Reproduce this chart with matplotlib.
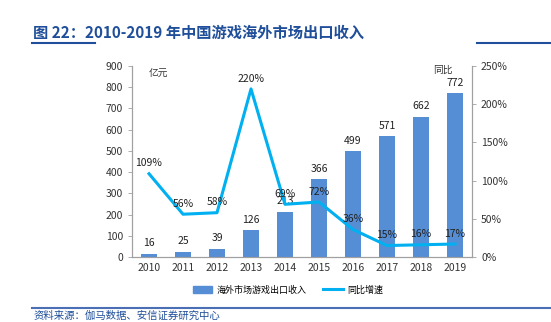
import numpy as np
import matplotlib
matplotlib.use("Agg")
from matplotlib import pyplot as plt
from matplotlib.lines import Line2D

plt.rcParams['font.family'] = ['Liberation Sans Narrow', 'Noto Sans CJK SC', 'DejaVu Sans']

years = ['2010', '2011', '2012', '2013', '2014', '2015', '2016', '2017', '2018', '2019']
revenue = [16, 25, 39, 126, 213, 366, 499, 571, 662, 772]
growth = [109, 56, 58, 220, 69, 72, 36, 15, 16, 17]

bar_color = '#558ED5'
line_color = '#00B0F0'
navy = '#1F4E9A'
cjk = ['Noto Sans CJK SC', 'DejaVu Sans']

fig = plt.figure(figsize=(5.51, 3.22), dpi=100)
ax = fig.add_axes([132/551, 1-257/322, 340/551, 191/322])
ax2 = ax.twinx()

x = np.arange(len(years))
ax.bar(x, revenue, width=0.45, color=bar_color, zorder=2)
ax.set_xlim(-0.5, 9.5)
ax.set_ylim(0, 900)
ax.set_yticks(range(0, 901, 100))
ax.set_xticks(x)
ax.set_xticklabels(years)
for i, v in enumerate(revenue):
    ax.text(i, v + 25, str(v), ha='center', va='bottom', fontsize=7.5, color='#222222')

ax2.plot(x, growth, color=line_color, linewidth=2.2, zorder=3)
ax2.set_ylim(0, 250)
ax2.set_yticks(range(0, 251, 50))
ax2.set_yticklabels([f'{t}%' for t in range(0, 251, 50)])
for i, v in enumerate(growth):
    ax2.text(i, v + 7, f'{v}%', ha='center', va='bottom', fontsize=7.5, color='#222222')

for a in (ax, ax2):
    a.spines['top'].set_visible(False)
    for s in ('left', 'right', 'bottom'):
        a.spines[s].set_color('#A0A0A0')
        a.spines[s].set_linewidth(0.8)
    a.tick_params(labelsize=7.5, colors='#333333', length=3, width=0.6)
    a.tick_params(axis='y', color='#A0A0A0')
ax.tick_params(axis='x', length=0, pad=4)

ax.text(0.05, 0.985, '亿元', transform=ax.transAxes, fontsize=7, style='italic',
        family=cjk, color='#333333', va='top')
ax2.text(0.885, 1.005, '同比', transform=ax.transAxes, fontsize=7,
         family=cjk, color='#333333', va='top')

handles = [plt.Rectangle((0, 0), 1, 1, color=bar_color),
           Line2D([0], [0], color=line_color, linewidth=2.2)]
fig.legend(handles, ['海外市场游戏出口收入', '同比增速'], loc='center',
           bbox_to_anchor=(288/551, 1-290/322), ncol=2, frameon=False,
           prop={'family': cjk, 'size': 6.5}, handlelength=2.2, columnspacing=1.8,
           handletextpad=0.5)

# title and frame lines
fig.text(33/551, 1-33/322, '图 22：2010-2019 年中国游戏海外市场出口收入', fontsize=11,
         fontweight='bold', color=navy, family=cjk, va='center')
fig.add_artist(Line2D([32/551, 95/551], [1-43/322, 1-43/322], color=navy, linewidth=1.5))
fig.add_artist(Line2D([477/551, 1], [1-43/322, 1-43/322], color=navy, linewidth=1.5))
fig.add_artist(Line2D([32/551, 1], [1-308/322, 1-308/322], color='#4A6FB5', linewidth=1.5))
fig.text(34/551, 1-316/322, '资料来源：伽马数据、安信证券研究中心', fontsize=7.5,
         color=navy, family=cjk, va='center', style='italic')

fig.savefig('out.png', dpi=100)
